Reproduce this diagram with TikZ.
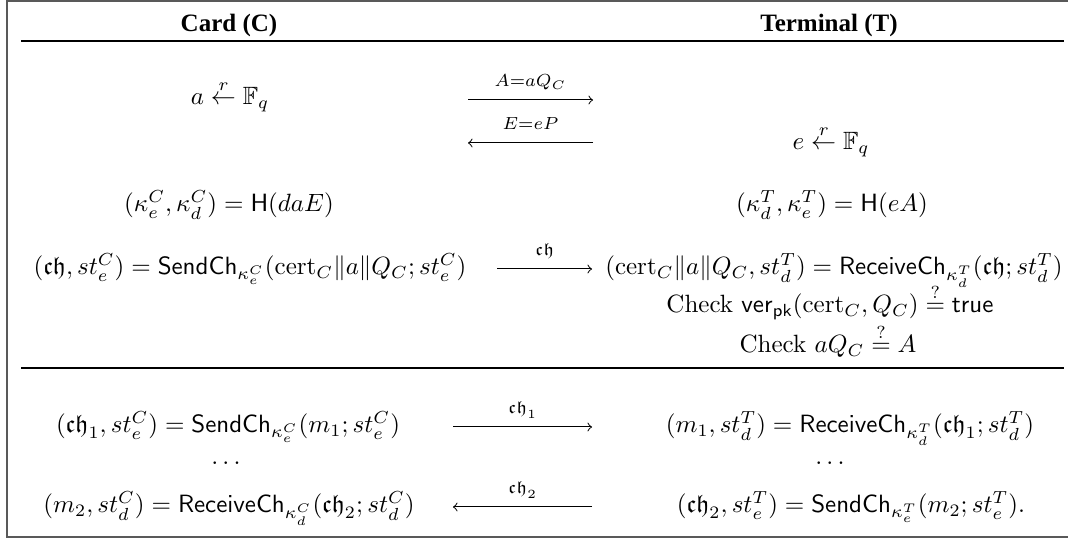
\documentclass[tikz,border=0pt]{standalone}
\usepackage{amsmath,amssymb}
\usepackage[no-math]{fontspec}
\newfontfamily\hdfont{Liberation Serif}
\newcommand{\fch}{\mathfrak{ch}}
\begin{document}
\begin{tikzpicture}[x=0.4pt,y=-0.4pt,
  txt/.style={anchor=base,inner sep=0pt},
  hdr/.style={anchor=base,inner sep=0pt,font=\hdfont\bfseries},
  msg/.style={->,line width=0.4pt},
  lbl/.style={anchor=base,inner sep=0pt,yshift=5.2pt},
  rulel/.style={line width=0.6pt},
  frame/.style={line width=0.6pt,black!65}]
\useasboundingbox (0,0) rectangle (1068,538);
% frame
\coordinate (f1) at (1068,1);
\coordinate (f2) at (7,1);
\coordinate (f3) at (7,537);
\coordinate (f4) at (1068,537);
\draw[frame] (f1) -- (f2) -- (f3) -- (f4);
% headers
\node[hdr] (hc) at (229,32) {Card (C)};
\node[hdr] (ht) at (829,32) {Terminal (T)};
\coordinate (r1a) at (21,41);
\coordinate (r1b) at (1064,41);
\draw[rulel] (r1a) -- (r1b);
% row 1
\node[txt] (ca) at (230,105) {$a \stackrel{r}{\leftarrow} \mathbb{F}_q$};
\coordinate (a1s) at (468,100);
\coordinate (a1e) at (593,100);
\draw[msg] (a1s) -- node[lbl] {$\scriptstyle A=aQ_C$} (a1e);
\coordinate (a2s) at (468,143);
\coordinate (a2e) at (593,143);
\draw[msg] (a2e) -- node[lbl] {$\scriptstyle E=eP$} (a2s);
\node[txt] (te) at (831,150) {$e \stackrel{r}{\leftarrow} \mathbb{F}_q$};
% row 2
\node[txt] (ck) at (229,212) {$(\kappa_e^C,\kappa_d^C) = \mathsf{H}(daE)$};
\node[txt] (tk) at (832,212) {$(\kappa_d^T,\kappa_e^T) = \mathsf{H}(eA)$};
% row 3
\node[txt] (cs) at (250,275) {$(\fch, st_e^C) = \mathsf{SendCh}_{\kappa_e^C}(\mathrm{cert}_C\|a\|Q_C; st_e^C)$};
\coordinate (a3s) at (497,269);
\coordinate (a3e) at (592,269);
\draw[msg] (a3s) -- node[lbl] {$\scriptstyle \fch$} (a3e);
\node[txt] (tr) at (834,275) {$(\mathrm{cert}_C\|a\|Q_C, st_d^T) = \mathsf{ReceiveCh}_{\kappa_d^T}(\fch; st_d^T)$};
\node[txt] (tv) at (830,313) {Check $\mathsf{ver}_{\mathsf{pk}}(\mathrm{cert}_C, Q_C) \stackrel{?}{=} \mathsf{true}$};
\node[txt] (tq) at (828,353) {Check $aQ_C \stackrel{?}{=} A$};
\coordinate (r2a) at (21,368);
\coordinate (r2b) at (1064,368);
\draw[rulel] (r2a) -- (r2b);
% data phase
\node[txt] (c1) at (228,433) {$(\fch_1, st_e^C) = \mathsf{SendCh}_{\kappa_e^C}(m_1; st_e^C)$};
\coordinate (a4s) at (453,427);
\coordinate (a4e) at (592,427);
\draw[msg] (a4s) -- node[lbl] {$\scriptstyle \fch_1$} (a4e);
\node[txt] (t1) at (850,433) {$(m_1, st_d^T) = \mathsf{ReceiveCh}_{\kappa_d^T}(\fch_1; st_d^T)$};
\node[txt] (cd) at (228,465) {$\dots$};
\node[txt] (td) at (832,465) {$\dots$};
\node[txt] (c2) at (229,513) {$(m_2, st_d^C) = \mathsf{ReceiveCh}_{\kappa_d^C}(\fch_2; st_d^C)$};
\coordinate (a5s) at (453,507);
\coordinate (a5e) at (592,507);
\draw[msg] (a5e) -- node[lbl] {$\scriptstyle \fch_2$} (a5s);
\node[txt] (t2) at (851,513) {$(\fch_2, st_e^T) = \mathsf{SendCh}_{\kappa_e^T}(m_2; st_e^T).$};
\end{tikzpicture}
\end{document}
